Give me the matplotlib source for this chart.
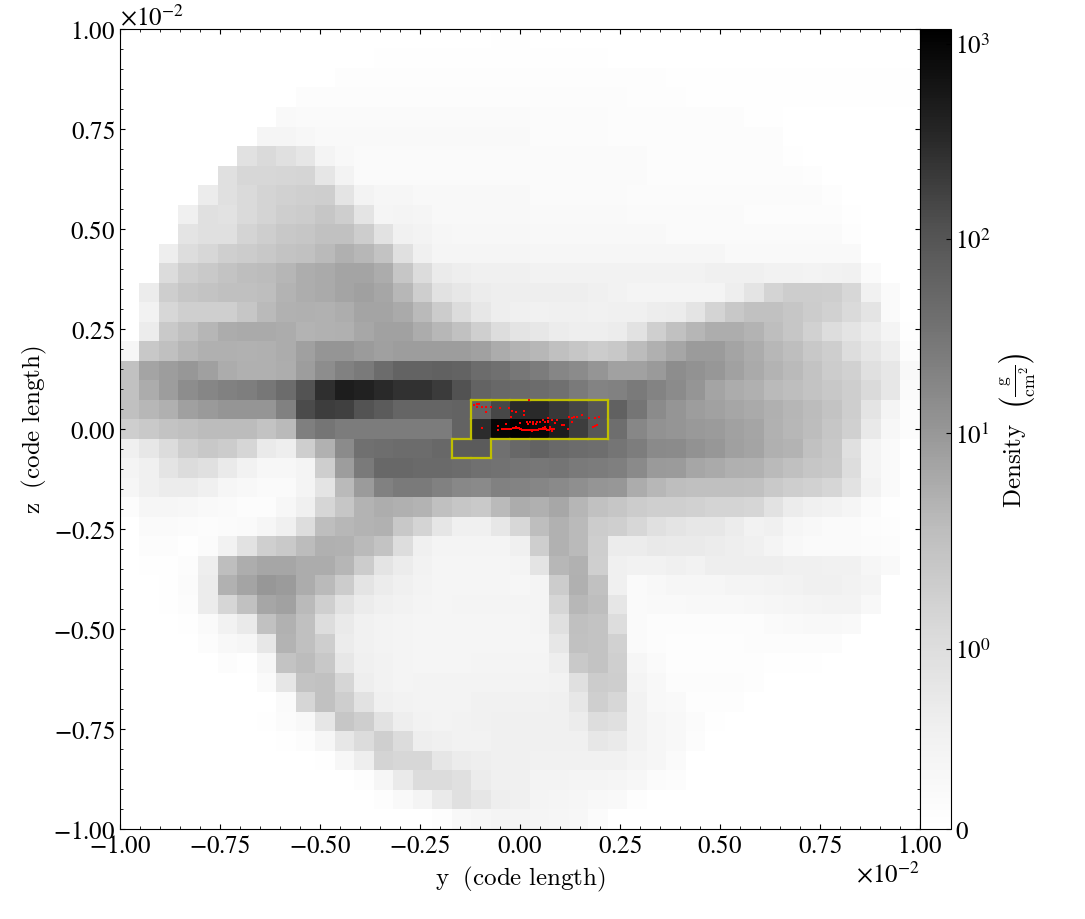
# coding: utf-8

import numpy as np
import matplotlib
matplotlib.use("Agg")
import matplotlib.pyplot as plt
from matplotlib.colors import SymLogNorm

plt.rcParams['font.family'] = ['STIXGeneral', 'DejaVu Sans']
plt.rcParams['mathtext.fontset'] = 'stix'

# shade of each cell, 255 = empty, 0 = densest
# top row first, 41 x 41 cells
shade_rows = [
[255]*19 + [254]*2 + [255]*20,
[255]*13 + [254]*12 + [255]*16,
[255]*11 + [253]*17 + [254]*13,
[255]*9 + [252]*17 + [253]*3 + [254]*12,
[255]*8 + [249,250,250,250,250,250,250,250,250,250,250,250,250] + [251]*4 + [252]*7 + [254]*2 + [255]*7,
[255]*7 + [245,245,247] + [249]*11 + [251]*4 + [252]*9 + [255]*7,
[255]*6 + [225,218,224,230,244,248] + [250]*15 + [252]*7 + [254] + [255]*6,
[255]*5 + [224,215,215,214,213,230,243] + [250]*15 + [252]*8 + [253] + [255]*5,
[255]*4 + [236,224,218,212,210,208,206,228,243,246,246,248,248,248,248,248,248,250,250,250,250,250] + [251]*10 + [253] + [255]*4,
[255]*3 + [240,224,226,218,212,206,204,198,206,228,245,244,245,248,248,248,248,248,249,249,249,249,249,250,250,250,250,250,250,252,252,252,252,252,254] + [255]*3,
[255]*3 + [228,224,224,212,206,200,198,194,194,205,226,241,243,246,247,247,247,247,248,248,248,248,248,248,248,250,250,250,250,250,250,250,250,250,253] + [255]*3,
[255]*2 + [238,222,216,208,204,200,196,194,186,176,184,196,224,240,245,245,245,245,245,246,246,246,246,246,246,246,246,246,246,249,249,249,249,249,249,249,255] + [255]*2,
[255]*2 + [220,206,202,196,190,188,182,174,170,164,164,172,198,220,235,238,240,240,240,242,242,242,242,242,242,242,242,242,240,240,240,242,242,243,242,241,250,255,255],
[255,236,206,198,196,192,192,190,180,174,170,164,160,166,184,206,226,232,236,238,238,238,238,238,240,242,244,244,244,244,244,238,228,212,205,205,206,216,241,250,255],
[255,242,216,208,208,208,198,186,178,176,178,174,164,164,170,186,204,220,232,238,240,241,240,240,241,240,240,237,236,228,212,200,194,194,198,204,210,218,228,250,255],
[255,236,202,192,182,172,170,170,172,180,178,176,168,162,162,172,184,194,208,222,228,232,236,238,238,236,226,208,194,182,174,174,180,190,198,210,222,228,236,244,254],
[246,200,192,182,176,176,178,176,172,160,150,150,156,160,158,158,158,158,162,172,180,184,192,198,204,200,188,176,166,156,156,164,172,184,190,200,206,222,230,238,252],
[194,164,158,152,160,172,176,176,174,158,142,130,122,108,100,100,98,100,108,112,120,124,134,140,150,162,162,154,142,146,152,162,170,180,186,196,204,210,224,232,248],
[194,172,158,142,134,130,126,120,108,84,48,30,34,42,50,50,60,82,100,104,106,108,112,122,132,130,122,132,140,150,164,172,176,186,190,196,200,206,218,232,250],
[192,184,176,160,154,150,150,150,130,76,62,64,84,92,102,102,102,100,100,72,44,44,58,70,86,98,118,140,150,158,162,166,170,176,182,188,196,206,228,244,252],
[206,202,196,192,188,188,188,196,186,128,118,124,124,124,124,124,124,100,45,8,0,10,30,62,88,110,135,146,150,153,155,161,165,177,183,189,198,209,233,247,252],
[240,232,220,206,200,204,214,234,238,206,178,140,112,110,108,108,104,92,92,112,104,100,105,108,110,118,125,138,140,146,152,160,164,176,180,194,200,224,244,250,255],
[244,240,228,220,224,234,242,247,247,244,206,158,122,104,104,106,106,108,112,114,118,120,118,122,124,128,138,154,156,166,170,176,178,186,192,198,202,222,244,250,255],
[246,240,236,236,240,246,248,250,250,244,228,186,156,130,122,122,130,136,138,130,132,134,138,144,150,152,172,184,190,192,192,192,194,202,206,210,214,226,242,250,255],
[252,246,246,247,249,250,252,252,247,240,214,198,180,174,176,180,192,198,202,186,172,176,168,182,194,198,204,208,208,210,212,212,214,226,236,240,242,245,250,254,255],
[255,250,250,251,252,251,250,246,240,222,190,184,180,178,200,212,230,240,240,232,215,190,178,186,204,208,216,224,228,232,232,236,242,240,246,248,250,250,252,253,255],
[255,252,252,254,251,242,226,208,202,188,176,178,186,196,222,240,244,244,244,244,240,206,178,186,206,236,236,233,234,234,236,238,240,244,248,250,250,250,251,252,255],
[255,254,254,252,238,190,174,166,166,172,172,182,204,228,236,242,245,245,245,245,244,228,184,178,208,240,242,242,240,242,238,238,238,238,240,240,241,241,246,249,255],
[255,255,254,251,236,178,164,152,156,172,186,204,228,236,240,243,245,245,245,245,246,244,204,176,194,240,250,248,246,246,246,244,244,243,242,240,240,242,244,255,255],
[255,255,254,252,236,214,194,166,162,186,208,226,236,240,242,244,245,244,244,244,244,244,214,184,190,230,250,249,249,248,248,248,247,246,245,244,243,243,248,255,255],
[255,255,255,254,250,242,234,194,178,192,222,234,241,243,244,245,245,245,245,245,245,244,224,192,196,222,250,252,252,252,252,252,252,250,249,248,248,249,255,255,255],
[255,255,255,255,252,248,246,232,180,192,206,236,241,243,244,245,245,245,245,245,245,245,232,194,196,210,250,252,253,253,253,253,252,252,252,252,252,255,255,255,255],
[255]*5 + [252,254,246,196,188,200,232,240,242,244,245,245,245,244,244,244,244,238,202,196,208,246,250,253,253,253,253,253,254,254,254] + [255]*5,
[255]*7 + [250,230,196,194,214,238,242,244,243,243,243,243,243,243,243,242,224,204,206,244,248,252,252,252,252,253] + [255]*8,
[255]*8 + [250,214,194,206,226,240,242,243,243,243,241,241,241,241,240,232,208,216,242,248,249,253,253,253] + [255]*9,
[255]*7 + [254,251,248,230,198,206,226,238,242,243,242,241,240,240,240,240,236,222,224,242,246,248,251,254] + [255]*10,
[255]*8 + [254,252,246,232,220,208,220,238,240,242,242,240,240,240,240,240,232,234,242,246,248,252] + [255]*11,
[255]*10 + [254,247,238,212,216,216,230,236,238,240,240,241,241,241,241,241,244,246,250] + [255]*12,
[255]*12 + [253,246,234,220,220,224,236,240,240,243,243,244,244,245,247,251,252] + [255]*12,
[255]*13 + [253,249,244,234,224,230,238,240,244,245,246,248,249,253] + [255]*14,
[255]*16 + [253,248,246,244,244,245,246,247,251] + [255]*16,
]

# particles, in units of 1e-2 code length
part_y = [-.114,-.108,-.103,-.108,-.094,-.086,-.0725,-.085,-.05,-.027,-.021,-.01,.01,.011,-.0225,.023,
          -.054,-.054,-.094,-.034,.001,.018,.025,.032,.042,.05,.021,.032,.04,.058,.071,.081,.092,.0625,.071,.0875,
          .105,.111,.12,.123,.129,.136,.143,.156,.129,.1725,.1875,.198,.182,.1875,.193,.071,
          -.046,-.04,-.035,-.03,-.026,-.022,-.018,-.014,-.01,-.006,-.003,0,.003,.006,.009,.012,.015,.018,.021,
          .024,.027,.03,.033,.036,.039,.042,.045,.048,.051,.054,.057,.06,.064,.068,.072,.076,.08,.085,
          .0625,.075,.058,-.01,.029,.079]
part_z = [.06,.062,.062,.054,.054,.054,.054,.042,.052,.052,.044,.042,.045,.036,.029,.072,
          .007,-.002,.0025,.012,.015,.018,.018,.018,.018,.018,.012,.0125,.0125,.023,.027,.023,.023,.017,.017,.014,
          .011,.011,.001,.031,.028,.029,.031,.035,.017,.028,.028,.031,.006,.008,.01,.021,
          0,0,0,0,.001,.001,.002,.003,.003,.003,.002,.001,-.001,-.002,-.002,-.003,-.003,-.003,-.003,
          -.003,-.002,-.002,-.002,-.002,-.002,-.002,-.002,-.001,-.001,0,0,0,0,-.002,-.002,0,0,0,
          .006,.004,.003,.006,-.006,-.006]

# cells of the selected region (row, column)
region_rows = [19,19,19,19,19,19,19,20,20,20,20,20,20,20,21,21]
region_cols = [18,19,20,21,22,23,24,18,19,20,21,22,23,24,17,18]

cbar_ticks = [0, 1, 10, 100, 1000]
cbar_labels = [r'$0$', r'$10^{0}$', r'$10^{1}$', r'$10^{2}$', r'$10^{3}$']

half_width = 0.01

norm = SymLogNorm(linthresh=1.2, linscale=1.0, vmin=0, vmax=1193, base=10)
cmap = plt.get_cmap('Greys')

# shade -> density, through the colour map and the norm
shade = np.array(shade_rows, dtype=float)
levels = np.linspace(0, 1, 256)
greys = cmap(levels)[:, 0]*255
density = norm.inverse(np.interp(shade, greys[::-1], levels[::-1]))

fig = plt.figure(figsize=(10.85, 9.2), dpi=100)
ax = fig.add_axes([120/1085, 90/920, 800/1085, 800/920])
cax = fig.add_axes([920/1085, 90/920, 30.5/1085, 800/920])

im = ax.imshow(density, cmap=cmap, norm=norm, origin='upper', interpolation='nearest',
               extent=[-half_width, half_width, -half_width, half_width], aspect='auto')

ax.scatter(np.array(part_y)*1e-2, np.array(part_z)*1e-2, s=3.5, c='r', marker='s', linewidths=0, zorder=3)

# outline of the region, every cell side that has no neighbour in it
cell = 2*half_width/shade.shape[0]
region = set(zip(region_rows, region_cols))
for r, c in region:
    left = -half_width + c*cell
    top = half_width - r*cell
    if (r-1, c) not in region:
        ax.plot([left, left+cell], [top, top], color=(0.75, 0.75, 0), lw=1.6, solid_capstyle='projecting', zorder=2)
    if (r+1, c) not in region:
        ax.plot([left, left+cell], [top-cell, top-cell], color=(0.75, 0.75, 0), lw=1.6, solid_capstyle='projecting', zorder=2)
    if (r, c-1) not in region:
        ax.plot([left, left], [top, top-cell], color=(0.75, 0.75, 0), lw=1.6, solid_capstyle='projecting', zorder=2)
    if (r, c+1) not in region:
        ax.plot([left+cell, left+cell], [top, top-cell], color=(0.75, 0.75, 0), lw=1.6, solid_capstyle='projecting', zorder=2)

ax.set_xlim(-half_width, half_width)
ax.set_ylim(-half_width, half_width)
ax.set_xticks(np.arange(-4, 5)*0.0025)
ax.set_yticks(np.arange(-4, 5)*0.0025)
ax.set_xticks(np.arange(-20, 21)*0.0005, minor=True)
ax.set_yticks(np.arange(-20, 21)*0.0005, minor=True)
ax.ticklabel_format(style='sci', scilimits=(0, 0), useMathText=True)
ax.tick_params(which='both', direction='in', top=True, right=True, labelsize=18)
ax.xaxis.get_offset_text().set_fontsize(18)
ax.yaxis.get_offset_text().set_fontsize(18)
ax.set_xlabel(r'$\rm{y}\ \ (\rm{code\ length})$', fontsize=18, labelpad=4, math_fontfamily='cm')
ax.set_ylabel(r'$\rm{z}\ \ (\rm{code\ length})$', fontsize=18, labelpad=3, math_fontfamily='cm')

cbar = fig.colorbar(im, cax=cax, ticks=cbar_ticks)
cbar.minorticks_off()
cbar.ax.set_yticklabels(cbar_labels)
cbar.ax.tick_params(direction='in', labelsize=18)
cbar.set_label(r'$\rm{Density}\ \ \left(\frac{\rm{g}}{\rm{cm}^{2}}\right)$', fontsize=18, math_fontfamily='cm')

fig.savefig('out.png', dpi=100)
